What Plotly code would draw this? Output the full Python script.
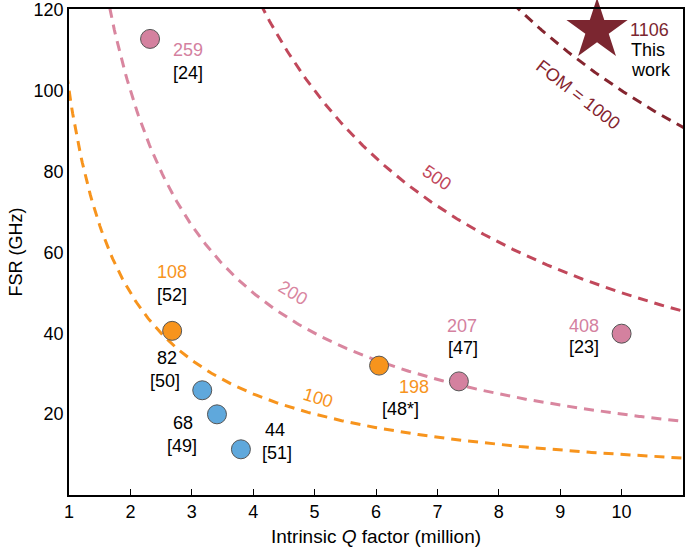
import numpy as np
import plotly.graph_objects as go

# ---- data ----
fom_levels = [100, 200, 500, 1000]
fom_colors = ["#f7941d", "#d9869f", "#c1485b", "#85252f"]
fom_labels = ["100", "200", "500", "FOM = 1000"]
fom_label_x = [5.06, 4.65, 7.0, 9.3]
fom_label_y = [24.0, 50.0, 78.5, 99.0]
fom_label_angle = [17, 31, 34, 38]

pink_q = [2.32, 7.35, 10.0]
pink_fsr = [112.8, 28.1, 39.9]
pink_val = ["259", "207", "408"]
pink_ref = ["[24]", "[47]", "[23]"]

orange_q = [2.68, 6.05]
orange_fsr = [40.6, 32.0]
orange_val = ["108", "198"]
orange_ref = ["[52]", "[48*]"]

blue_q = [3.17, 3.41, 3.80]
blue_fsr = [25.9, 19.95, 11.3]
blue_val = ["82", "68", "44"]
blue_ref = ["[50]", "[49]", "[51]"]

star_q = [9.6]
star_fsr = [115.0]
star_val = ["1106"]

x_ticks = [1, 2, 3, 4, 5, 6, 7, 8, 9, 10]
y_ticks = [20, 40, 60, 80, 100, 120]

PINK = "#d4819f"
ORANGE = "#f7941d"
BLUE = "#5fa8dc"
DARK = "#7b2630"
FONT = "Liberation Sans, Arial, sans-serif"
FS = 18

fig = go.Figure()

qgrid = np.linspace(0.8, 11.2, 400)
for f, c in zip(fom_levels, fom_colors):
    fig.add_trace(go.Scatter(x=qgrid, y=f / qgrid, mode="lines",
                             line=dict(color=c, width=3, dash="10px,7px"),
                             hoverinfo="skip", showlegend=False))

def add_pts(xs, ys, color):
    fig.add_trace(go.Scatter(x=xs, y=ys, mode="markers",
                             marker=dict(size=19, color=color,
                                         line=dict(color="#555555", width=1)),
                             showlegend=False))

add_pts(pink_q, pink_fsr, PINK)
add_pts(orange_q, orange_fsr, ORANGE)
add_pts(blue_q, blue_fsr, BLUE)
fig.add_trace(go.Scatter(x=star_q, y=star_fsr, mode="markers", cliponaxis=False,
                         marker=dict(symbol="star", size=46, color=DARK,
                                     line=dict(width=0)),
                         showlegend=False))

# FOM curve labels
for t, x, y, a, c in zip(fom_labels, fom_label_x, fom_label_y, fom_label_angle, fom_colors):
    fig.add_annotation(x=x, y=y, text=t, showarrow=False, textangle=a,
                       font=dict(size=FS, color=c, family=FONT))

def lab(x, y, text, color, dx, dy, xanchor="center"):
    fig.add_annotation(x=x, y=y, text=text, showarrow=False, xshift=dx, yshift=-dy,
                       xanchor=xanchor,
                       font=dict(size=FS, color=color, family=FONT))

# pink labels (value offset, ref offset)
pink_off = [((38, 11), (38, 34)), ((3, -55), (4, -33)), ((-38, -8), (-38, 13))]
for x, y, v, r, (o1, o2) in zip(pink_q, pink_fsr, pink_val, pink_ref, pink_off):
    lab(x, y, v, PINK, *o1)
    lab(x, y, r, "#000000", *o2)

orange_off = [((0, -59), (0, -36)), ((35, 21), (21, 43))]
for x, y, v, r, (o1, o2) in zip(orange_q, orange_fsr, orange_val, orange_ref, orange_off):
    lab(x, y, v, ORANGE, *o1)
    lab(x, y, r, "#000000", *o2)

blue_off = [((-35, -32), (-37, -9)), ((-34, 9), (-35, 32)), ((34, -19), (36, 4))]
for x, y, v, r, (o1, o2) in zip(blue_q, blue_fsr, blue_val, blue_ref, blue_off):
    lab(x, y, v, "#000000", *o1)
    lab(x, y, r, "#000000", *o2)

lab(star_q[0], star_fsr[0], star_val[0], DARK, 31, 0, "left")
lab(star_q[0], star_fsr[0], "This", "#000000", 32, 20, "left")
lab(star_q[0], star_fsr[0], "work", "#000000", 32, 40, "left")

fig.update_layout(
    width=685, height=554,
    margin=dict(l=69, r=2, t=9, b=59, autoexpand=False),
    plot_bgcolor="white", paper_bgcolor="white",
    font=dict(family=FONT, size=FS, color="#000000"),
    showlegend=False,
    xaxis=dict(range=[1, 11], tickvals=x_ticks, ticks="inside", ticklen=6,
               tickcolor="#000", showgrid=False, zeroline=False, automargin=False,
               showline=True, linecolor="#000", linewidth=1.5, mirror=True,
               title=dict(text="Intrinsic <i>Q</i> factor (million)",
                          font=dict(size=19), standoff=8),
               tickfont=dict(size=FS)),
    yaxis=dict(range=[0, 120.2], tickvals=y_ticks, ticks="", showgrid=False,
               zeroline=False, showline=True, linecolor="#000", linewidth=1.5,
               mirror=True, automargin=False, ticklabeloverflow="allow",
               title=dict(text="FSR (GHz)", font=dict(size=FS), standoff=6),
               tickfont=dict(size=FS)),
)

fig.write_html("out.html", config={"displayModeBar": False},
               post_script="document.body.style.margin='0';document.body.style.overflow='hidden';")
